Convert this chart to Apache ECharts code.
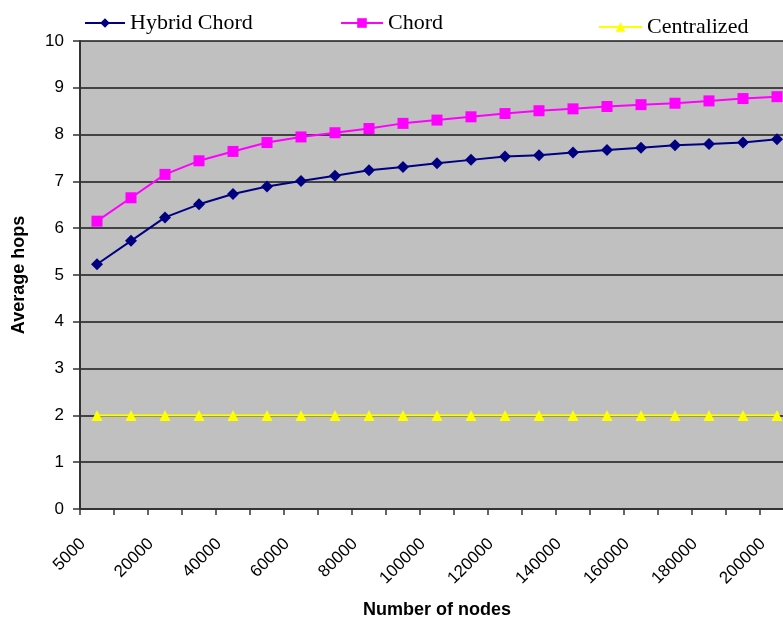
<!DOCTYPE html>
<html>
<head>
<meta charset="utf-8">
<script src="https://cdn.jsdelivr.net/npm/echarts@6/dist/echarts.min.js"></script>
<style>html,body{margin:0;padding:0;background:#fff;}#c{width:783px;height:620px;}</style>
</head>
<body>
<div id="c"></div>
<script>
var categories = ['5000','10000','20000','30000','40000','50000','60000','70000','80000','90000','100000','110000','120000','130000','140000','150000','160000','170000','180000','190000','200000'];
var hybridChord = [5.23,5.73,6.23,6.51,6.73,6.89,7.01,7.12,7.24,7.31,7.39,7.46,7.53,7.56,7.62,7.67,7.72,7.77,7.80,7.83,7.90];
var chord = [6.15,6.65,7.15,7.44,7.64,7.83,7.95,8.04,8.13,8.24,8.31,8.38,8.45,8.51,8.55,8.60,8.64,8.67,8.72,8.77,8.81];
var centralized = [2,2,2,2,2,2,2,2,2,2,2,2,2,2,2,2,2,2,2,2,2];

var chart = echarts.init(document.getElementById('c'));
var legendText = {fontFamily:'Liberation Serif', fontSize:22, color:'#000'};
chart.setOption({
  animation:false,
  backgroundColor:'#fff',
  legend:[
    {data:['Hybrid Chord'], left:79, top:7, itemWidth:40, itemHeight:12, textStyle:legendText},
    {data:['Chord'], left:335, top:7, itemWidth:42, itemHeight:12, textStyle:legendText},
    {data:['Centralized'], left:593, top:11, itemWidth:43, itemHeight:12, textStyle:legendText}
  ],
  grid:{left:80, top:41, width:714, height:468, backgroundColor:'#C0C0C0', show:true, borderWidth:0, outerBoundsMode:'none', containLabel:false},
  xAxis:{
    type:'category', data:categories, boundaryGap:true,
    name:'Number of nodes', nameLocation:'middle', nameGap:92,
    nameTextStyle:{fontFamily:'Liberation Sans', fontSize:18, fontWeight:'bold', color:'#000'},
    axisLine:{lineStyle:{color:'#333', width:2}},
    axisTick:{show:true, interval:0, length:6, lineStyle:{color:'#333', width:1.5}},
    axisLabel:{interval:1, rotate:45, fontFamily:'Liberation Sans', fontSize:17, color:'#000', margin:18, padding:[0,20,0,0]},
    splitLine:{show:false}
  },
  yAxis:{
    type:'value', min:0, max:10, interval:1,
    name:'Average hops', nameLocation:'middle', nameGap:52,
    nameTextStyle:{fontFamily:'Liberation Sans', fontSize:18, fontWeight:'bold', color:'#000'},
    axisLine:{show:true, lineStyle:{color:'#333', width:2}},
    axisTick:{show:true, length:7, lineStyle:{color:'#333', width:1.5}},
    axisLabel:{fontFamily:'Liberation Sans', fontSize:17, color:'#000', margin:16},
    splitLine:{show:true, lineStyle:{color:'#1a1a1a', width:1.5}}
  },
  series:[
    {name:'Hybrid Chord', type:'line', data:hybridChord, symbol:'diamond', symbolSize:12, showAllSymbol:true,
     itemStyle:{color:'#000080'}, lineStyle:{color:'#000080', width:2}},
    {name:'Chord', type:'line', data:chord, symbol:'rect', symbolSize:11, showAllSymbol:true,
     itemStyle:{color:'#FF00FF'}, lineStyle:{color:'#FF00FF', width:2}},
    {name:'Centralized', type:'line', data:centralized, symbol:'triangle', symbolSize:11, showAllSymbol:true,
     itemStyle:{color:'#FFFF00'}, lineStyle:{color:'#FFFF00', width:2}}
  ]
});
</script>
</body>
</html>
